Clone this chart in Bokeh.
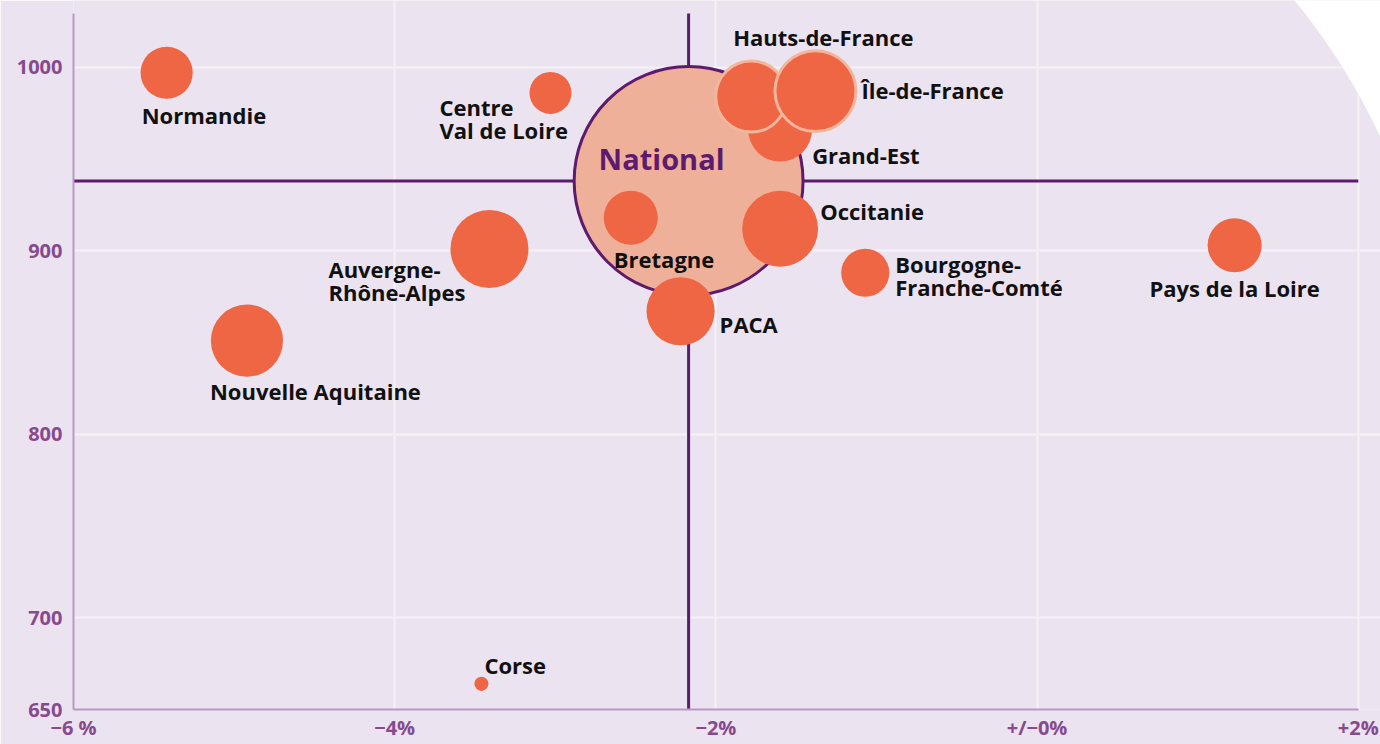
import numpy as np
from bokeh.plotting import figure
from bokeh.models import ColumnDataSource, Range1d, FixedTicker
from bokeh.core.properties import value
from bokeh.embed import file_html
from bokeh.resources import INLINE

# ---------------- data ----------------
regions = ["Grand-Est", "Hauts-de-France", "Île-de-France", "Normandie",
           "Centre Val de Loire", "Auvergne-Rhône-Alpes", "Nouvelle Aquitaine",
           "Bretagne", "Occitanie", "PACA", "Bourgogne-Franche-Comté",
           "Pays de la Loire", "Corse"]
variation = [-1.60, -1.78, -1.38, -5.42, -3.03, -3.41, -4.92, -2.53, -1.60,
             -2.22, -1.07, 1.23, -3.46]          # x : évolution en %
niveau = [966, 984, 987, 997, 986, 901, 851, 918, 912, 867, 888, 903, 664]  # y
poids = [10.2, 12.6, 16.4, 6.8, 4.4, 15.2, 13.0, 7.3, 14.4, 11.6, 5.8, 7.3, 0.5]

national_label = "National"
national_x = -2.17
national_y = 938
national_poids = 131

x_ticks = [-6, -4, -2, 0, 2]
x_tick_labels = ["−6 %", "−4%", "−2%", "+/−0%", "+2%"]
y_ticks = [650, 700, 800, 900, 1000]
y_tick_labels = ["650", "700", "800", "900", "1000"]

# ---------------- styles ----------------
BG = "#ebe3ef"
GRID = "#f5f1f7"
AXIS = "#b997c6"
DARK = "#5e1a6e"
BUBBLE = "#ef6644"
NAT_FILL = "#efb099"
RING = "#f3b69d"
TICK = "#874a8e"
FONT = "Open Sans"

ringed = {"Hauts-de-France", "Île-de-France"}
# label layout: lines, align, dx, first-line dy (baseline)
label_layout = {
    "Normandie": (["Normandie"], "left", -25, 42),
    "Centre Val de Loire": (["Centre", "Val de Loire"], "left", -111, 14),
    "Auvergne-Rhône-Alpes": (["Auvergne-", "Rhône-Alpes"], "left", -161, 20),
    "Nouvelle Aquitaine": (["Nouvelle Aquitaine"], "left", -37, 50),
    "Bourgogne-Franche-Comté": (["Bourgogne-", "Franche-Comté"], "left", 30, -9),
    "Pays de la Loire": (["Pays de la Loire"], "center", 0, 43),
    "Occitanie": (["Occitanie"], "left", 40, -18),
    "Bretagne": (["Bretagne"], "left", -17, 41),
    "PACA": (["PACA"], "left", 39, 13),
    "Hauts-de-France": (["Hauts-de-France"], "left", -18, -60),
    "Île-de-France": (["Île-de-France"], "left", 46, -1),
    "Grand-Est": (["Grand-Est"], "left", 32, 25),
    "Corse": (["Corse"], "left", 3, -19),
}
LINE_STEP = 23

W, H = 1380, 744
FRAME_LEFT, FRAME_BOTTOM = 73, 709
PX_PER_PCT = 160.6
PX_PER_UNIT = 1.835
x0 = x_ticks[0]
x1 = x0 + (W - FRAME_LEFT) / PX_PER_PCT
y0 = y_ticks[0]
y1 = y0 + FRAME_BOTTOM / PX_PER_UNIT
axis_top = y0 + (FRAME_BOTTOM - 13) / PX_PER_UNIT

p = figure(width=W, height=H, x_range=Range1d(x0, x1), y_range=Range1d(y0, y1),
           output_backend="svg", toolbar_location=None,
           min_border_left=FRAME_LEFT, min_border_right=0, min_border_top=0,
           min_border_bottom=H - FRAME_BOTTOM)
p.background_fill_color = BG
p.border_fill_color = BG
p.outline_line_color = None

# axes
for ax in (p.xaxis[0], p.yaxis[0]):
    ax.axis_line_color = AXIS
    ax.axis_line_width = 2
    ax.major_tick_line_color = None
    ax.minor_tick_line_color = None
    ax.major_tick_out = 0
    ax.major_tick_in = 0
    ax.major_label_text_color = TICK
    ax.major_label_text_font = FONT
    ax.major_label_text_font_style = "bold"
    ax.major_label_text_font_size = "20px"
p.xaxis.ticker = FixedTicker(ticks=x_ticks)
p.xaxis.major_label_overrides = {t: l for t, l in zip(x_ticks, x_tick_labels)}
p.yaxis.ticker = FixedTicker(ticks=y_ticks)
p.yaxis.major_label_overrides = {t: l for t, l in zip(y_ticks, y_tick_labels)}
p.xaxis.bounds = (x_ticks[0], x_ticks[-1])
p.yaxis.bounds = (y_ticks[0], axis_top)
p.xaxis.major_label_standoff = 4
p.yaxis.major_label_standoff = 11

p.xgrid.ticker = FixedTicker(ticks=x_ticks[1:])
p.ygrid.ticker = FixedTicker(ticks=y_ticks[1:])
for g in (p.xgrid[0], p.ygrid[0]):
    g.grid_line_color = GRID
    g.grid_line_width = 2
p.xgrid.bounds = (y_ticks[0], axis_top)
p.ygrid.bounds = (x_ticks[0], x_ticks[-1])

# white corner (decorative arc), defined in pixel space of the canvas
def px_to_x(px):
    return x0 + (px - FRAME_LEFT) / PX_PER_PCT

def py_to_y(py):
    return y0 + (FRAME_BOTTOM - py) / PX_PER_UNIT

ccx, ccy, R = 796.5, 407.8, 643.3
ang = np.linspace(np.radians(-52), np.radians(-5), 90)
arc_px = list(ccx + R * np.cos(ang)) + [1700, 1700]
arc_py = list(ccy + R * np.sin(ang)) + [ccy + R * np.sin(ang[-1]), -300]
p.patch([px_to_x(v) for v in arc_px], [py_to_y(v) for v in arc_py],
        fill_color="white", line_color=None)

# national crosshair
p.segment(x0=[national_x, x_ticks[0]], y0=[y_ticks[0], national_y],
          x1=[national_x, x_ticks[-1]], y1=[axis_top, national_y],
          line_color=DARK, line_width=3)

# national bubble
p.scatter([national_x], [national_y], size=[20 * np.sqrt(national_poids)],
          fill_color=NAT_FILL, line_color=DARK, line_width=3)
p.text([national_x], [national_y], text=[national_label], x_offset=-90, y_offset=-23,
       text_font=value(FONT), text_font_style="bold", text_font_size="29px",
       text_color=DARK, text_baseline="alphabetic", text_align="left")

# regional bubbles
src = ColumnDataSource(dict(
    x=variation, y=niveau, name=regions,
    size=[20 * np.sqrt(v) for v in poids],
    line=[RING if r in ringed else BUBBLE for r in regions],
    lw=[3 if r in ringed else 0 for r in regions],
))
p.scatter("x", "y", size="size", source=src, fill_color=BUBBLE,
          line_color="line", line_width="lw")

# labels
lx, ly, lt, lxo, lyo, la = [], [], [], [], [], []
for r, xv, yv in zip(regions, variation, niveau):
    lines, align, dx, dy = label_layout[r]
    for i, line in enumerate(lines):
        lx.append(xv); ly.append(yv); lt.append(line)
        lxo.append(dx); lyo.append(dy + i * LINE_STEP); la.append(align)
lsrc = ColumnDataSource(dict(x=lx, y=ly, text=lt, xo=lxo, yo=lyo, align=la))
p.text("x", "y", text="text", x_offset="xo", y_offset="yo", text_align="align",
       source=lsrc, text_font=value(FONT), text_font_style="bold",
       text_font_size="22px", text_color="#111111", text_baseline="alphabetic")

open("out.html", "w").write(file_html(p, INLINE))
